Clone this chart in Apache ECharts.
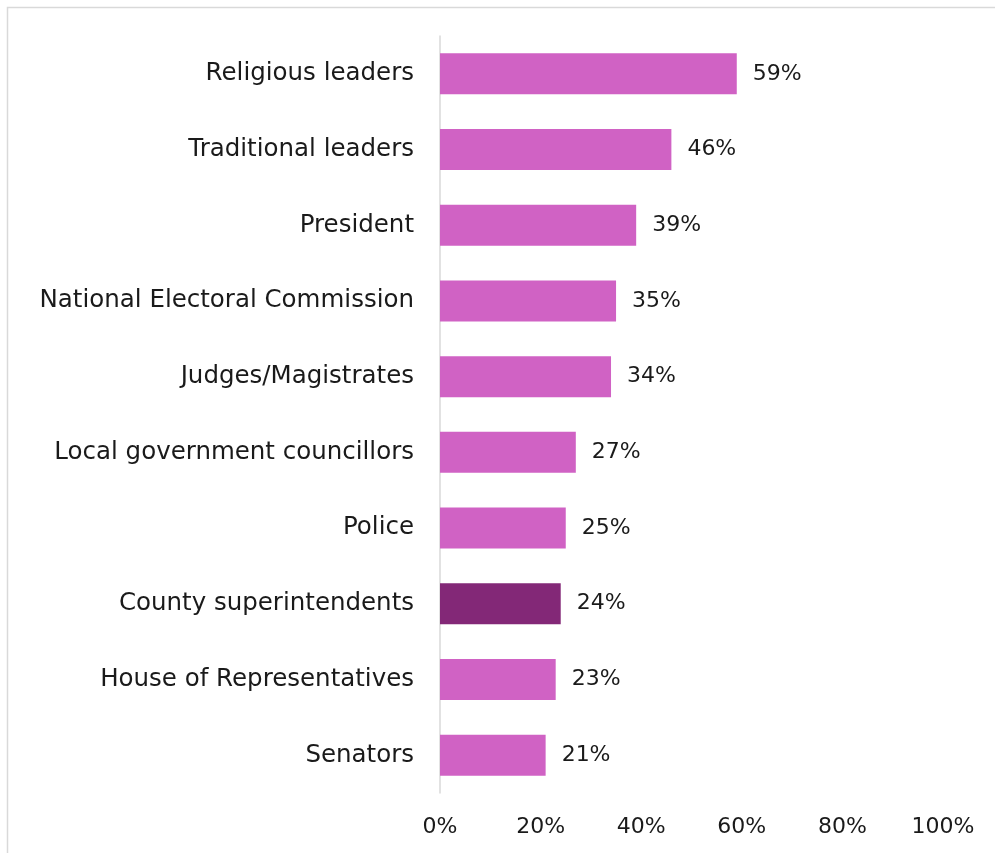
<!DOCTYPE html>
<html>
<head>
<meta charset="utf-8">
<script src="https://cdn.jsdelivr.net/npm/echarts@6/dist/echarts.min.js"></script>
<style>
  html, body { margin: 0; padding: 0; background: #fff; }
  #chart { width: 995px; height: 853px; }
</style>
</head>
<body>
<div id="chart"></div>
<script>
// Institutions, top to bottom
const categories = [
  'Religious leaders',
  'Traditional leaders',
  'President',
  'National Electoral Commission',
  'Judges/Magistrates',
  'Local government councillors',
  'Police',
  'County superintendents',
  'House of Representatives',
  'Senators'
];
// Share of respondents, percent
const values = [59, 46, 39, 35, 34, 27, 25, 24, 23, 21];
// Highlighted institution
const highlight = 'County superintendents';
const xTicks = [0, 20, 40, 60, 80, 100];

const FONT = 'DejaVu Sans';
const BAR = '#D062C4';
const BAR_DARK = '#832877';
const TEXT = '#1a1a1a';

const chart = echarts.init(document.getElementById('chart'), null, { renderer: 'canvas' });

chart.setOption({
  animation: false,
  backgroundColor: '#fff',
  graphic: [{
    type: 'rect',
    shape: { x: 7.5, y: 7.5, width: 1200, height: 1200 },
    style: { fill: 'none', stroke: '#d9d9d9', lineWidth: 1.5 },
    silent: true
  }],
  grid: { left: 440, right: 52, top: 36, bottom: 60, containLabel: false },
  xAxis: {
    type: 'value',
    min: xTicks[0],
    max: xTicks[xTicks.length - 1],
    interval: 20,
    axisLine: { show: false },
    axisTick: { show: false },
    splitLine: { show: false },
    axisLabel: {
      formatter: v => v + '%',
      color: TEXT,
      fontFamily: FONT,
      fontSize: 22,
      margin: 23
    }
  },
  yAxis: {
    type: 'category',
    inverse: true,
    data: categories,
    axisLine: { show: true, lineStyle: { color: '#d9d9d9', width: 1.5 } },
    axisTick: { show: false },
    axisLabel: {
      color: TEXT,
      fontFamily: FONT,
      fontSize: 24.5,
      margin: 26
    }
  },
  series: [{
    type: 'bar',
    barWidth: 41,
    data: values.map((v, i) => ({
      value: v,
      itemStyle: { color: categories[i] === highlight ? BAR_DARK : BAR }
    })),
    label: {
      show: true,
      position: 'right',
      distance: 16,
      formatter: p => p.value + '%',
      color: TEXT,
      fontFamily: FONT,
      fontSize: 22
    }
  }]
});
</script>
</body>
</html>
